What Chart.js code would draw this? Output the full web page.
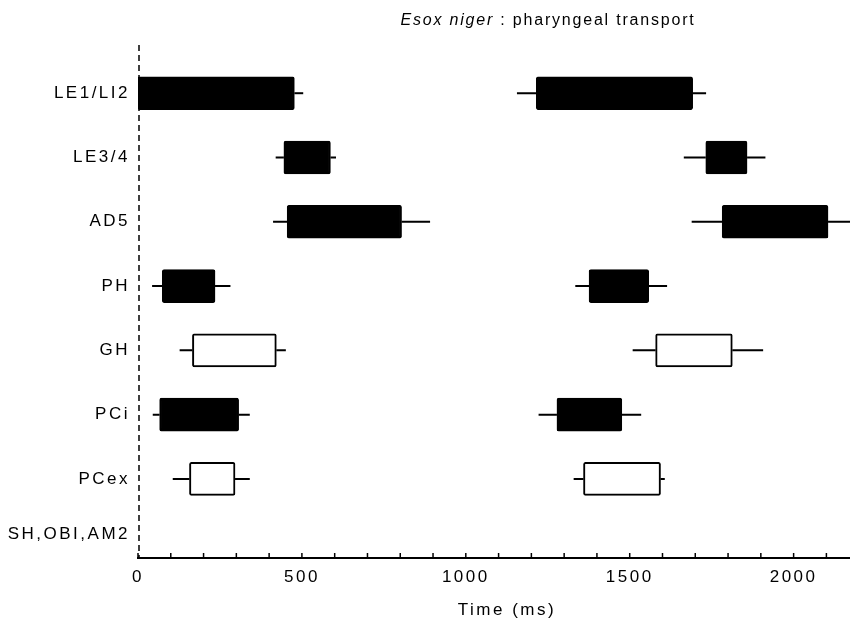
<!DOCTYPE html>
<html>
<head>
<meta charset="utf-8">
<script src="https://cdn.jsdelivr.net/npm/chart.js@4.4.1/dist/chart.umd.min.js"></script>
<style>
  html, body { margin: 0; padding: 0; background: #fff; }
  #wrap { width: 850px; height: 618px; }
</style>
</head>
<body>
<div id="wrap"><canvas id="c"></canvas></div>
<script>
// ---- data ----
const categories = ['LE1/LI2', 'LE3/4', 'AD5', 'PH', 'GH', 'PCi', 'PCex', 'SH,OBI,AM2'];
const rowPos = [0, 1, 2, 3, 4, 5, 6, 6.86];
// first cycle burst: onset, offset, onset whisker, offset whisker (ms)
const c1Start = [0, 445, 455, 74, 166, 66, 157];
const c1End   = [477, 587, 804, 235, 422, 307, 296];
const c1Lo    = [0, 420, 412, 43, 127, 45, 106];
const c1Hi    = [504, 604, 891, 282, 451, 341, 341];
// second cycle burst
const c2Start = [1215, 1732, 1782, 1376, 1579, 1278, 1359];
const c2End   = [1692, 1858, 2105, 1558, 1813, 1476, 1594];
const c2Lo    = [1156, 1665, 1689, 1334, 1509, 1222, 1329];
const c2Hi    = [1733, 1914, 2190, 1614, 1907, 1535, 1607];
const filled  = [true, true, true, true, false, true, false];
const xTickStep = 100;
const xLabelStep = 500;
const xTitle = 'Time (ms)';
const titleItalic = 'Esox niger';
const titleRest = ' : pharyngeal transport';

const FONT = "'Liberation Sans', Arial, sans-serif";

function makeData(st, en) {
  return st.map((s, i) => ({ y: rowPos[i], x: [s, en[i]] }));
}
const fills = filled.map(f => f ? '#000' : '#fff');

const spacingPlugin = {
  id: 'spacing',
  beforeLayout(chart) { chart.ctx.letterSpacing = '2.5px'; },
  beforeDraw(chart) { chart.ctx.letterSpacing = '2.5px'; }
};

const decoPlugin = {
  id: 'deco',
  beforeDatasetsDraw(chart) {
    const ctx = chart.ctx, xs = chart.scales.x, ys = chart.scales.y;
    ctx.save();
    ctx.beginPath();
    ctx.rect(chart.chartArea.left, 0, chart.chartArea.right - chart.chartArea.left, chart.height);
    ctx.clip();
    ctx.strokeStyle = '#000';
    ctx.lineWidth = 2;
    const sets = [[c1Start, c1End, c1Lo, c1Hi], [c2Start, c2End, c2Lo, c2Hi]];
    sets.forEach(([st, en, lo, hi]) => {
      st.forEach((s, i) => {
        const y = ys.getPixelForValue(rowPos[i]);
        ctx.beginPath();
        ctx.moveTo(xs.getPixelForValue(lo[i]), y);
        ctx.lineTo(xs.getPixelForValue(s), y);
        ctx.moveTo(xs.getPixelForValue(en[i]), y);
        ctx.lineTo(xs.getPixelForValue(hi[i]), y);
        ctx.stroke();
      });
    });
    ctx.restore();
  },
  afterDraw(chart) {
    const ctx = chart.ctx, xs = chart.scales.x;
    const ca = chart.chartArea;
    ctx.save();
    // dashed y axis at x = 0
    ctx.strokeStyle = '#000';
    ctx.lineWidth = 1.5;
    ctx.setLineDash([6, 4]);
    const x0px = xs.getPixelForValue(0) + 1;
    ctx.beginPath();
    ctx.moveTo(x0px, ca.top);
    ctx.lineTo(x0px, ca.bottom);
    ctx.stroke();
    ctx.setLineDash([]);
    // inward minor ticks
    xs.ticks.forEach(t => {
      if (t.value % xTickStep !== 0) return;
      const x = xs.getPixelForValue(t.value);
      ctx.beginPath();
      ctx.moveTo(x, ca.bottom);
      ctx.lineTo(x, ca.bottom - 5);
      ctx.stroke();
    });
    ctx.fillStyle = '#000';
    ctx.textBaseline = 'middle';
    // x axis title
    ctx.letterSpacing = '2.5px';
    ctx.textAlign = 'center';
    ctx.font = '17px ' + FONT;
    ctx.fillText(xTitle, 507, 610);
    // chart title
    ctx.letterSpacing = '1.8px';
    ctx.textAlign = 'left';
    ctx.font = 'italic 16px ' + FONT;
    const w1 = ctx.measureText(titleItalic).width;
    ctx.font = '16px ' + FONT;
    const w2 = ctx.measureText(titleRest).width;
    const tx = 548 - (w1 + w2) / 2;
    ctx.font = 'italic 16px ' + FONT;
    ctx.fillText(titleItalic, tx, 21);
    ctx.font = '16px ' + FONT;
    ctx.fillText(titleRest, tx + w1, 21);
    ctx.restore();
  }
};

new Chart(document.getElementById('c'), {
  type: 'bar',
  data: {
    datasets: [
      { label: 'cycle 1', data: makeData(c1Start, c1End), backgroundColor: fills, borderColor: '#000', borderWidth: 2, borderSkipped: false, borderRadius: 2 },
      { label: 'cycle 2', data: makeData(c2Start, c2End), backgroundColor: fills, borderColor: '#000', borderWidth: 2, borderSkipped: false, borderRadius: 2 }
    ]
  },
  options: {
    indexAxis: 'y',
    responsive: true,
    maintainAspectRatio: false,
    animation: false,
    grouped: false,
    barThickness: 33,
    layout: { padding: { top: 45, left: 0, right: 0, bottom: 0 } },
    plugins: { legend: { display: false }, tooltip: { enabled: false }, title: { display: false } },
    scales: {
      x: {
        type: 'linear',
        min: 0,
        max: 2172,
        grid: { display: false, drawTicks: false },
        border: { display: true, color: '#000', width: 2 },
        ticks: {
          stepSize: xTickStep,
          autoSkip: false,
          includeBounds: false,
          maxRotation: 0,
          padding: 9,
          color: '#000',
          font: { family: FONT, size: 17 },
          callback: v => (v % xLabelStep === 0 ? String(v) : '')
        },
        afterFit(s) { s.height = 60; s.paddingRight = 0; s.paddingLeft = 0; }
      },
      y: {
        type: 'linear',
        reverse: true,
        offset: false,
        min: -0.75,
        max: 7.23,
        grid: { display: false, drawTicks: false, offset: false },
        border: { display: false },
        afterBuildTicks(s) { s.ticks = rowPos.map(v => ({ value: v })); },
        ticks: {
          padding: 8,
          color: '#000',
          font: { family: FONT, size: 17 },
          callback: (v, i) => categories[i]
        },
        afterFit(s) { s.width = 138; }
      }
    }
  },
  plugins: [spacingPlugin, decoPlugin]
});
</script>
</body>
</html>
